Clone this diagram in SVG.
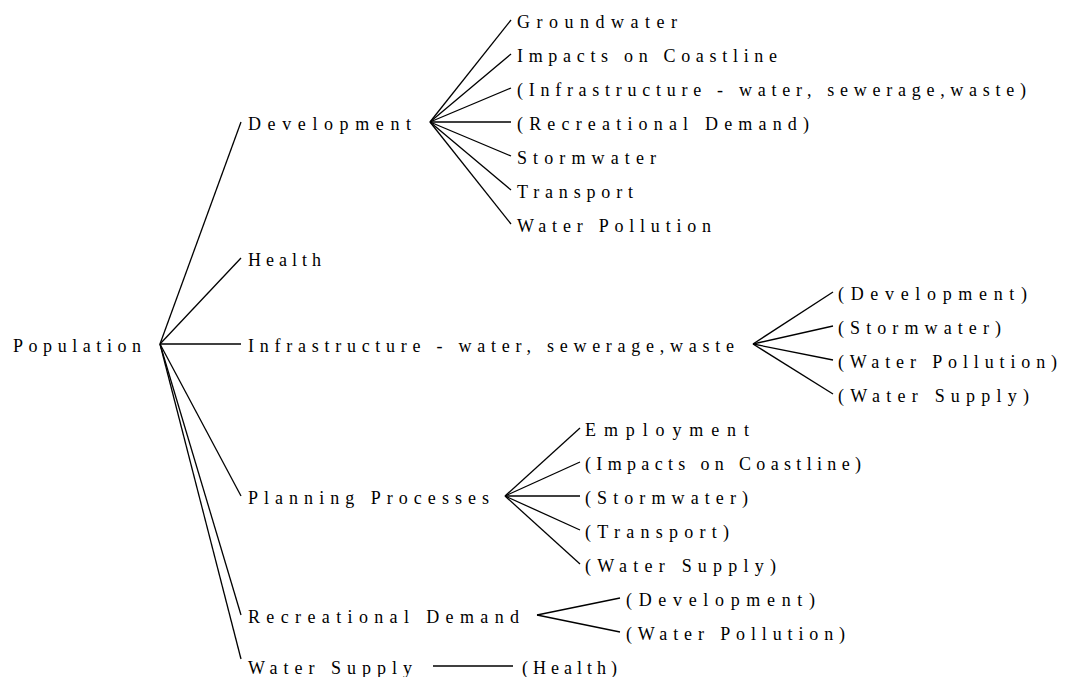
<svg xmlns="http://www.w3.org/2000/svg" width="1068" height="677" viewBox="0 0 1068 677">
<style>
text{font-family:"Liberation Serif","Times New Roman",serif;font-size:18px;fill:#000;letter-spacing:6px}
.c line{stroke:#000;stroke-width:1.3;fill:none}
</style>
<rect width="1068" height="677" fill="#fff"/>
<g class="c" id="connectors">
<line x1="160" y1="344" x2="241" y2="122"/>
<line x1="160" y1="344" x2="241" y2="258"/>
<line x1="160" y1="344" x2="241" y2="344"/>
<line x1="160" y1="344" x2="241" y2="496"/>
<line x1="160" y1="344" x2="241" y2="615"/>
<line x1="160" y1="344" x2="241" y2="659"/>
<line x1="430" y1="122" x2="511" y2="20"/>
<line x1="430" y1="122" x2="511" y2="54"/>
<line x1="430" y1="122" x2="511" y2="88"/>
<line x1="430" y1="122" x2="511" y2="122"/>
<line x1="430" y1="122" x2="511" y2="156"/>
<line x1="430" y1="122" x2="511" y2="190"/>
<line x1="430" y1="122" x2="511" y2="224"/>
<line x1="753" y1="344" x2="833" y2="292"/>
<line x1="753" y1="344" x2="833" y2="326"/>
<line x1="753" y1="344" x2="833" y2="360"/>
<line x1="753" y1="344" x2="833" y2="394"/>
<line x1="505" y1="496" x2="580" y2="428"/>
<line x1="505" y1="496" x2="580" y2="462"/>
<line x1="505" y1="496" x2="580" y2="496"/>
<line x1="505" y1="496" x2="580" y2="530"/>
<line x1="505" y1="496" x2="580" y2="564"/>
<line x1="537" y1="615" x2="620" y2="598"/>
<line x1="537" y1="615" x2="620" y2="632"/>
<line x1="433" y1="666" x2="513" y2="666"/>
</g>
<g id="n-population"><text x="13" y="352" textLength="134" lengthAdjust="spacing">Population</text></g>
<g id="n-development"><text x="248" y="130" textLength="169" lengthAdjust="spacing">Development</text></g>
<g id="n-health"><text x="248" y="266" textLength="79" lengthAdjust="spacing">Health</text></g>
<g id="n-infrastructure"><text x="248" y="352" textLength="492" lengthAdjust="spacing">Infrastructure - water, sewerage,waste</text></g>
<g id="n-planning"><text x="248" y="504" textLength="247" lengthAdjust="spacing">Planning Processes</text></g>
<g id="n-recreational"><text x="248" y="623" textLength="277" lengthAdjust="spacing">Recreational Demand</text></g>
<g id="n-watersupply"><text x="248" y="674" textLength="170" lengthAdjust="spacing">Water Supply</text></g>
<g id="n-dev-groundwater"><text x="517" y="28" textLength="166" lengthAdjust="spacing">Groundwater</text></g>
<g id="n-dev-impacts"><text x="517" y="62" textLength="266" lengthAdjust="spacing">Impacts on Coastline</text></g>
<g id="n-dev-infra"><text x="517" y="96" textLength="515" lengthAdjust="spacing">(Infrastructure - water, sewerage,waste)</text></g>
<g id="n-dev-recreational"><text x="517" y="130" textLength="298" lengthAdjust="spacing">(Recreational Demand)</text></g>
<g id="n-dev-stormwater"><text x="517" y="164" textLength="145" lengthAdjust="spacing">Stormwater</text></g>
<g id="n-dev-transport"><text x="517" y="198" textLength="122" lengthAdjust="spacing">Transport</text></g>
<g id="n-dev-waterpollution"><text x="517" y="232" textLength="200" lengthAdjust="spacing">Water Pollution</text></g>
<g id="n-inf-development"><text x="838" y="300" textLength="195" lengthAdjust="spacing">(Development)</text></g>
<g id="n-inf-stormwater"><text x="838" y="334" textLength="169" lengthAdjust="spacing">(Stormwater)</text></g>
<g id="n-inf-waterpollution"><text x="838" y="368" textLength="225" lengthAdjust="spacing">(Water Pollution)</text></g>
<g id="n-inf-watersupply"><text x="838" y="402" textLength="197" lengthAdjust="spacing">(Water Supply)</text></g>
<g id="n-pl-employment"><text x="585" y="436" textLength="170" lengthAdjust="spacing">Employment</text></g>
<g id="n-pl-impacts"><text x="585" y="470" textLength="282" lengthAdjust="spacing">(Impacts on Coastline)</text></g>
<g id="n-pl-stormwater"><text x="585" y="504" textLength="169" lengthAdjust="spacing">(Stormwater)</text></g>
<g id="n-pl-transport"><text x="585" y="538" textLength="150" lengthAdjust="spacing">(Transport)</text></g>
<g id="n-pl-watersupply"><text x="585" y="572" textLength="197" lengthAdjust="spacing">(Water Supply)</text></g>
<g id="n-rec-development"><text x="626" y="606" textLength="195" lengthAdjust="spacing">(Development)</text></g>
<g id="n-rec-waterpollution"><text x="626" y="640" textLength="225" lengthAdjust="spacing">(Water Pollution)</text></g>
<g id="n-ws-health"><text x="522" y="674" textLength="101" lengthAdjust="spacing">(Health)</text></g>
</svg>
